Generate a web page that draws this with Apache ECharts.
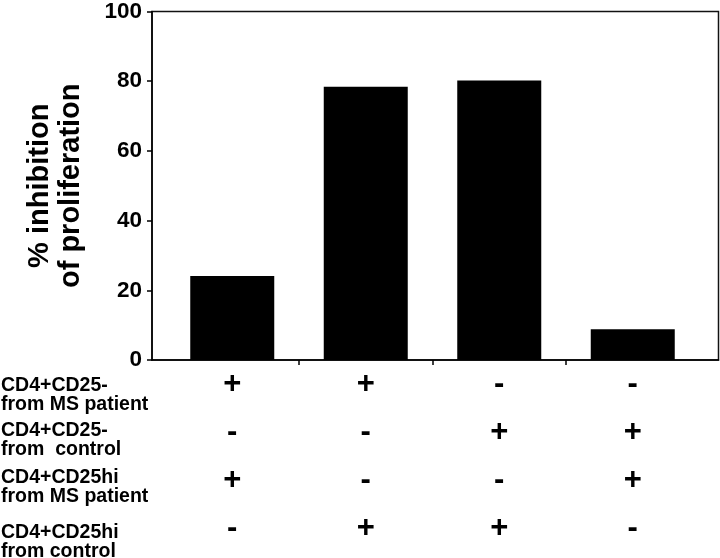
<!DOCTYPE html>
<html>
<head>
<meta charset="utf-8">
<script src="https://cdn.jsdelivr.net/npm/echarts@6/dist/echarts.min.js"></script>
<style>
html,body{margin:0;padding:0;background:#fff;}
#chart{width:720px;height:558px;}
</style>
</head>
<body>
<div id="chart"></div>
<script>
// ---- data ----
var inhibition = [24, 78.2, 80, 8.8];
var yTicks = [0, 20, 40, 60, 80, 100];
var yAxisTitle = '% inhibition\nof proliferation';
var rowLabels = [
  'CD4+CD25-\nfrom MS patient',
  'CD4+CD25-\nfrom  control',
  'CD4+CD25hi\nfrom MS patient',
  'CD4+CD25hi\nfrom control'
];
var cd25negMS   = ['+', '+', '-', '-'];
var cd25negCtrl = ['-', '-', '+', '+'];
var cd25hiMS    = ['+', '-', '-', '+'];
var cd25hiCtrl  = ['-', '+', '+', '-'];

// ---- build ----
var signRows = [cd25negMS, cd25negCtrl, cd25hiMS, cd25hiCtrl];
var slots = [];
var slotLabels = [];
var barData = [];
for (var i = 0; i < inhibition.length * 2 + 1; i++) {
  slots.push(String(i));
  if (i % 2 === 1) {
    var c = (i - 1) / 2;
    slotLabels.push(signRows.map(function (r) { return r[c]; }).join('\n'));
    barData.push(inhibition[c]);
  } else {
    slotLabels.push('');
    barData.push(null);
  }
}

var FONT = '"Liberation Sans", Arial, sans-serif';
var chart = echarts.init(document.getElementById('chart'), null, {renderer: 'canvas'});

var graphics = rowLabels.map(function (t, k) {
  var tops = [375.6, 420.6, 467.2, 522.2];
  return {
    type: 'text',
    left: 1,
    top: tops[k],
    style: {
      text: t,
      font: 'bold 19.5px ' + FONT,
      fill: '#000',
      lineHeight: 19
    }
  };
});

chart.setOption({
  animation: false,
  backgroundColor: '#fff',
  graphic: graphics,
  grid: [
    {left: 152, right: 1.5, top: 10.5, bottom: 198, show: true, borderColor: '#111', borderWidth: 1.5, backgroundColor: 'transparent'},
    {left: 165.5, right: 20.5, top: 10.5, bottom: 198}
  ],
  xAxis: [
    {
      gridIndex: 0, type: 'value', min: 0, max: 1,
      axisLine: {show: true, lineStyle: {color: '#000', width: 1.5}},
      axisTick: {show: false}, axisLabel: {show: false}, splitLine: {show: false}
    },
    {
      gridIndex: 1, type: 'category', data: slots, boundaryGap: false,
      axisLine: {show: false},
      axisTick: {
        show: true, length: 5, inside: false,
        interval: function (idx) { return idx === 2 || idx === 4 || idx === 6; },
        lineStyle: {color: '#000', width: 1.5}
      },
      axisLabel: {
        show: true,
        interval: function (idx) { return idx % 2 === 1; },
        formatter: function (v, idx) { return slotLabels[idx]; },
        margin: 0,
        color: '#000',
        fontFamily: FONT,
        fontWeight: 'bold',
        fontSize: 31,
        lineHeight: 48
      },
      splitLine: {show: false}
    }
  ],
  yAxis: [
    {
      gridIndex: 0, type: 'value', min: yTicks[0], max: yTicks[yTicks.length - 1], interval: 20,
      axisLine: {show: true, lineStyle: {color: '#000', width: 1.5}},
      axisTick: {show: true, length: 5, lineStyle: {color: '#000', width: 1.5}},
      axisLabel: {
        margin: 10, color: '#000', fontFamily: FONT, fontWeight: 'bold', fontSize: 22.5
      },
      splitLine: {show: false},
      name: yAxisTitle,
      nameLocation: 'middle',
      nameRotate: 90,
      nameGap: 66,
      nameTextStyle: {
        color: '#000', fontFamily: FONT, fontWeight: 'bold', fontSize: 29, lineHeight: 31, align: 'center'
      }
    },
    {
      gridIndex: 1, type: 'value', min: 0, max: 100, show: false,
      splitLine: {show: false}
    }
  ],
  series: [
    {
      type: 'bar',
      xAxisIndex: 1, yAxisIndex: 1,
      data: barData,
      barWidth: 84,
      itemStyle: {color: '#000'},
      silent: true
    }
  ]
});
</script>
</body>
</html>
